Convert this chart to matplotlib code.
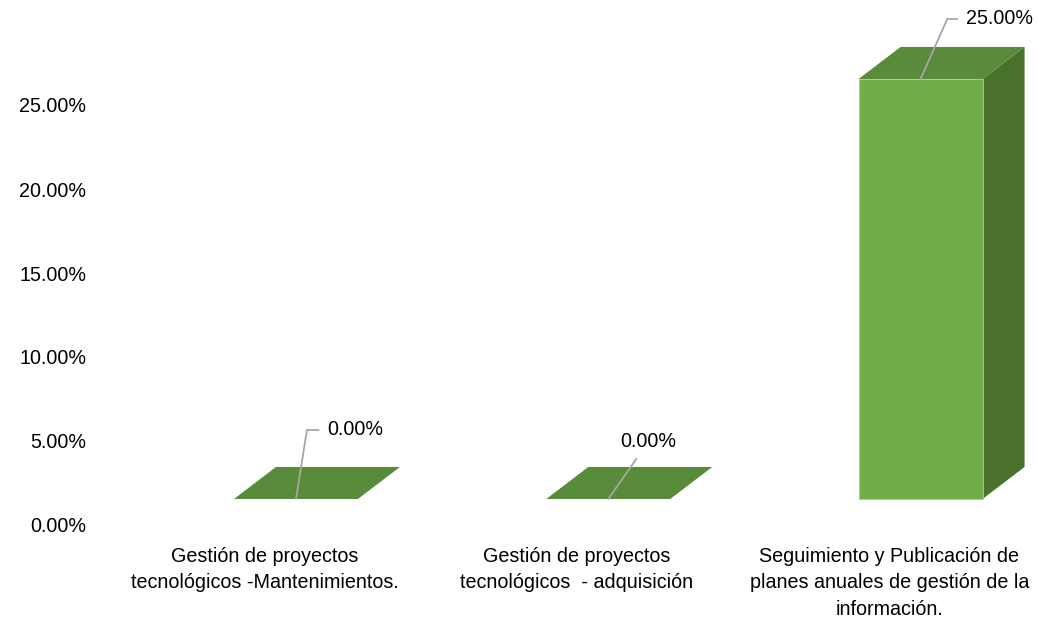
import numpy as np
import matplotlib
matplotlib.use("Agg")
import matplotlib.pyplot as plt
from matplotlib.patches import Polygon
from matplotlib.ticker import FuncFormatter
from matplotlib import font_manager

# Datos
categorias = [
    "Gestión de proyectos\ntecnológicos -Mantenimientos.",
    "Gestión de proyectos\ntecnológicos  - adquisición",
    "Seguimiento y Publicación de\nplanes anuales de gestión de la\ninformación.",
]
valores = [0.0, 0.0, 25.0]  # porcentaje
y_ticks = [0, 5, 10, 15, 20, 25]

# fuente parecida a Arial Narrow
nombres = {f.name for f in font_manager.fontManager.ttflist}
if "Liberation Sans Narrow" in nombres:
    plt.rcParams["font.family"] = ["Liberation Sans Narrow", "DejaVu Sans"]
    fs = 17
else:
    plt.rcParams["font.family"] = ["Liberation Sans", "DejaVu Sans"]
    fs = 14.2

# colores de las caras
c_frente = "#70AD47"
c_tope = "#588B3A"
c_lado = "#4A712C"

# geometria pseudo 3D (unidades de datos)
ancho = 0.397
prof_x = 0.1345
prof_y = 1.905
piso = 1.55

fig = plt.figure(figsize=(10.38, 6.2), dpi=100)
ax = fig.add_axes([100 / 1038, 95 / 620, 938 / 1038, 520.8 / 620])
ax.set_xlim(-0.6276, 2.376)
ax.set_ylim(0, 31)

for i, v in enumerate(valores):
    x0 = i - ancho / 2
    x1 = i + ancho / 2
    b = piso
    t = piso + v
    if v > 0:
        ax.add_patch(Polygon([(x0, b), (x1, b), (x1, t), (x0, t)],
                             closed=True, facecolor=c_frente,
                             edgecolor="#A9D18E", linewidth=0.6, zorder=3))
        ax.add_patch(Polygon([(x1, b), (x1 + prof_x, b + prof_y),
                              (x1 + prof_x, t + prof_y), (x1, t)],
                             closed=True, facecolor=c_lado, edgecolor="none", zorder=2))
    ax.add_patch(Polygon([(x0, t), (x1, t), (x1 + prof_x, t + prof_y),
                          (x0 + prof_x, t + prof_y)],
                         closed=True, facecolor=c_tope, edgecolor="none", zorder=2))

# etiquetas de datos con linea guia (desplazamientos en pixeles)
desp_texto = [(31, 69), (40, 57), (45, 60)]
estilo_guia = ["angle,angleA=0,angleB=81,rad=0", "arc3,rad=0",
               "angle,angleA=0,angleB=66,rad=0"]
for i, v in enumerate(valores):
    ax.annotate(f"{v:.2f}%", xy=(i, piso + v), xytext=desp_texto[i],
                textcoords="offset pixels", ha="left" if i != 1 else "center",
                va="center", fontsize=fs, color="#000000",
                arrowprops=dict(arrowstyle="-", color="#A6A6A6", lw=1.3,
                                connectionstyle=estilo_guia[i],
                                shrinkA=4, shrinkB=0),
                zorder=5)

ax.set_yticks(y_ticks)
ax.yaxis.set_major_formatter(FuncFormatter(lambda y, _: f"{y:.2f}%"))
ax.set_xticks(np.arange(len(categorias)) - 0.1)
ax.set_xticklabels(categorias, linespacing=1.48)
ax.tick_params(axis="both", length=0, labelsize=fs, colors="#000000")
ax.tick_params(axis="y", pad=10)
ax.tick_params(axis="x", pad=16)
for s in ax.spines.values():
    s.set_visible(False)

fig.savefig("out.png", dpi=100, facecolor="white")
